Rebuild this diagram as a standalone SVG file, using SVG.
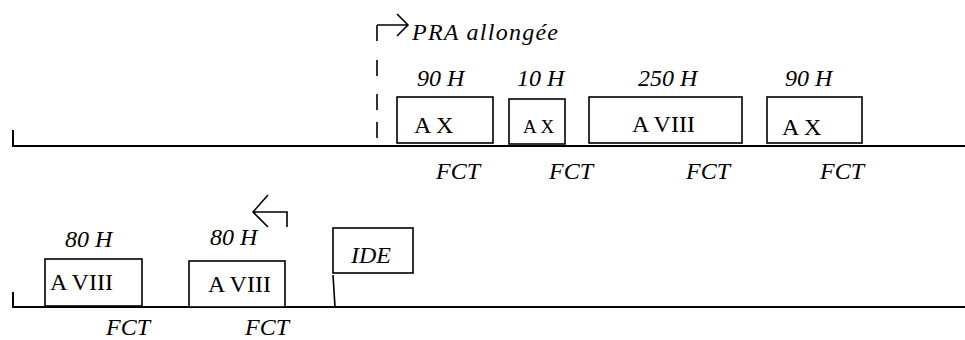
<svg xmlns="http://www.w3.org/2000/svg" width="965" height="340" viewBox="0 0 965 340">
<style>
.ln{stroke:#000;stroke-width:2;fill:none}
.bx{stroke:#000;stroke-width:1.6;fill:#fff}
.ar{stroke:#000;stroke-width:1.6;fill:none}
text{font-family:"Liberation Serif","Times New Roman",serif;fill:#000;font-size:24px}
.it{font-style:italic}
.sm{font-size:19px}
</style>
<rect width="965" height="340" fill="#fff"/>
<g id="connectors">
<path class="ln" d="M13,130 V146 H965"/>
<path class="ln" d="M13,292 V307 H965"/>
<path class="ar" d="M377,25 H408 M397,14 L408,25 L397,36"/>
<path class="ar" d="M377,25 V41 M377,60 V76 M377,94 V110 M377,122 V138"/>
<path class="ar" d="M287,227 V212 H253 M268,195 L253,212 L268,227"/>
<path class="ar" d="M333,275 L335,307"/>
</g>
<g id="pra"><text class="it" x="412" y="40" textLength="146" lengthAdjust="spacing">PRA allongée</text></g>
<g id="n1"><rect class="bx" x="397" y="97" width="96" height="46"/><text x="414" y="133">A X</text><text class="it" x="417" y="86">90 H</text></g>
<g id="n2"><rect class="bx" x="509" y="99" width="56" height="45"/><text class="sm" x="523" y="133">A X</text><text class="it" x="517" y="86">10 H</text></g>
<g id="n3"><rect class="bx" x="589" y="97" width="153" height="46"/><text x="632" y="132">A VIII</text><text class="it" x="638" y="86">250 H</text></g>
<g id="n4"><rect class="bx" x="767" y="97" width="95" height="46"/><text x="782" y="135">A X</text><text class="it" x="785" y="86">90 H</text></g>
<g id="fct1"><text class="it" x="436" y="179">FCT</text></g>
<g id="fct2"><text class="it" x="549" y="179">FCT</text></g>
<g id="fct3"><text class="it" x="686" y="179">FCT</text></g>
<g id="fct4"><text class="it" x="820" y="179">FCT</text></g>
<g id="n5"><rect class="bx" x="45" y="259" width="97" height="47"/><text x="50" y="290">A VIII</text><text class="it" x="65" y="247">80 H</text></g>
<g id="n6"><rect class="bx" x="189" y="261" width="96" height="46"/><text x="208" y="292">A VIII</text><text class="it" x="210" y="245">80 H</text></g>
<g id="ide"><rect class="bx" x="333" y="228" width="80" height="45"/><text class="it" x="351" y="263">IDE</text></g>
<g id="fct5"><text class="it" x="106" y="335">FCT</text></g>
<g id="fct6"><text class="it" x="245" y="335">FCT</text></g>
</svg>
